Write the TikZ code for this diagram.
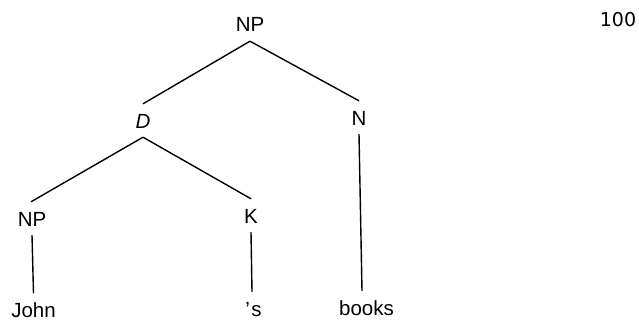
\documentclass[tikz,border=0pt]{standalone}
\usepackage{fontspec}
\setmainfont{Liberation Sans}
\newfontfamily\numfont{DejaVu Sans}
\begin{document}
\begin{tikzpicture}[x=1pt,y=-1pt,
  lbl/.style={anchor=base, inner xsep=0pt, inner ysep=9pt, text height=15pt, text depth=0pt,
              font=\fontsize{20.5}{24}\selectfont},
  edge/.style={line width=1.4pt}]
\useasboundingbox (0,0) rectangle (639,321);
\node[lbl] (np)  at (250,32)  {NP};
\node[lbl] (d)   at (143,128) {\textit{D}};
\node[lbl] (n)   at (359,125) {N};
\node[lbl] (np2) at (32,226)  {NP};
\node[lbl] (k)   at (251,223) {K};
\node[lbl] (john)  at (33.5,317.5) {John};
\node[lbl] (poss)  at (253.5,316) {’\kern1.5pt s};
\node[lbl] (books) at (366.5,315) {books};
\node[anchor=base, inner sep=0pt, font=\numfont\fontsize{19}{23}\selectfont] (pg) at (618,27) {100};
\draw[edge] (np.south) -- (d.north);
\draw[edge] (np.south) -- (n.north);
\draw[edge] (d.south) -- ([xshift=-1pt]np2.north);
\draw[edge] (d.south) -- (k.north);
\draw[edge] (np2.south) -- (john.north);
\draw[edge] (k.south) -- ([xshift=-1.5pt]poss.north);
\draw[edge] (n.south) -- ([xshift=-4.5pt]books.north);
\end{tikzpicture}
\end{document}
